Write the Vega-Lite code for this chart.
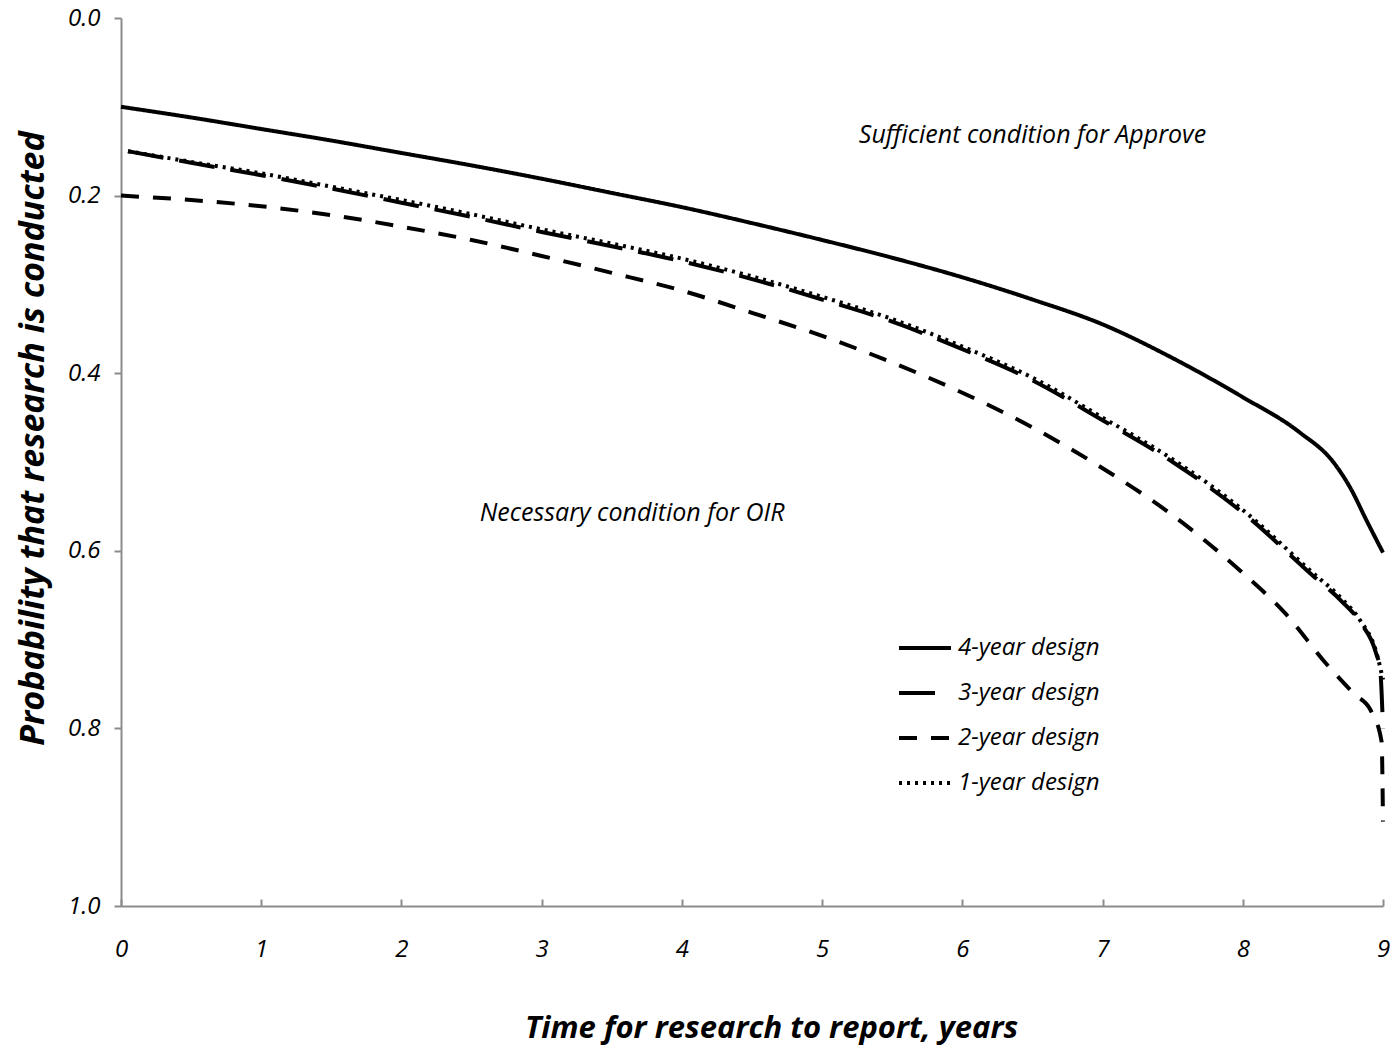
{
  "$schema": "https://vega.github.io/schema/vega-lite/v6.json",
  "width": 1262,
  "height": 888,
  "autosize": {"type": "none"},
  "padding": {"left": 121, "top": 18, "right": 7, "bottom": 139},
  "background": "white",
  "config": {
    "view": {"stroke": null},
    "font": "Open Sans"
  },
  "datasets": {
    "curves": [
      {"series": "4-year design", "x": 0, "y": 0.100},
      {"series": "4-year design", "x": 0.5, "y": 0.112},
      {"series": "4-year design", "x": 1, "y": 0.125},
      {"series": "4-year design", "x": 1.5, "y": 0.138},
      {"series": "4-year design", "x": 2, "y": 0.152},
      {"series": "4-year design", "x": 2.5, "y": 0.166},
      {"series": "4-year design", "x": 3, "y": 0.181},
      {"series": "4-year design", "x": 3.5, "y": 0.197},
      {"series": "4-year design", "x": 4, "y": 0.213},
      {"series": "4-year design", "x": 4.5, "y": 0.231},
      {"series": "4-year design", "x": 5, "y": 0.250},
      {"series": "4-year design", "x": 5.5, "y": 0.270},
      {"series": "4-year design", "x": 6, "y": 0.292},
      {"series": "4-year design", "x": 6.5, "y": 0.317},
      {"series": "4-year design", "x": 7, "y": 0.345},
      {"series": "4-year design", "x": 7.5, "y": 0.383},
      {"series": "4-year design", "x": 8, "y": 0.427},
      {"series": "4-year design", "x": 8.4, "y": 0.466},
      {"series": "4-year design", "x": 8.65, "y": 0.501},
      {"series": "4-year design", "x": 8.77, "y": 0.530},
      {"series": "4-year design", "x": 8.88, "y": 0.565},
      {"series": "4-year design", "x": 9, "y": 0.602},
      {"series": "3-year design", "x": 0.05, "y": 0.150},
      {"series": "3-year design", "x": 0.5, "y": 0.163},
      {"series": "3-year design", "x": 1, "y": 0.177},
      {"series": "3-year design", "x": 1.5, "y": 0.192},
      {"series": "3-year design", "x": 2, "y": 0.208},
      {"series": "3-year design", "x": 2.5, "y": 0.224},
      {"series": "3-year design", "x": 3, "y": 0.241},
      {"series": "3-year design", "x": 3.5, "y": 0.257},
      {"series": "3-year design", "x": 4, "y": 0.274},
      {"series": "3-year design", "x": 4.5, "y": 0.294},
      {"series": "3-year design", "x": 5, "y": 0.317},
      {"series": "3-year design", "x": 5.5, "y": 0.342},
      {"series": "3-year design", "x": 6, "y": 0.373},
      {"series": "3-year design", "x": 6.5, "y": 0.408},
      {"series": "3-year design", "x": 7, "y": 0.453},
      {"series": "3-year design", "x": 7.5, "y": 0.500},
      {"series": "3-year design", "x": 8, "y": 0.557},
      {"series": "3-year design", "x": 8.5, "y": 0.628},
      {"series": "3-year design", "x": 8.7, "y": 0.656},
      {"series": "3-year design", "x": 8.84, "y": 0.681},
      {"series": "3-year design", "x": 8.95, "y": 0.715},
      {"series": "3-year design", "x": 8.98, "y": 0.734},
      {"series": "3-year design", "x": 9, "y": 0.800},
      {"series": "2-year design", "x": 0, "y": 0.200},
      {"series": "2-year design", "x": 0.5, "y": 0.205},
      {"series": "2-year design", "x": 1, "y": 0.212},
      {"series": "2-year design", "x": 1.5, "y": 0.222},
      {"series": "2-year design", "x": 2, "y": 0.235},
      {"series": "2-year design", "x": 2.5, "y": 0.250},
      {"series": "2-year design", "x": 3, "y": 0.268},
      {"series": "2-year design", "x": 3.5, "y": 0.287},
      {"series": "2-year design", "x": 4, "y": 0.307},
      {"series": "2-year design", "x": 4.5, "y": 0.332},
      {"series": "2-year design", "x": 5, "y": 0.358},
      {"series": "2-year design", "x": 5.5, "y": 0.388},
      {"series": "2-year design", "x": 6, "y": 0.422},
      {"series": "2-year design", "x": 6.5, "y": 0.461},
      {"series": "2-year design", "x": 7, "y": 0.507},
      {"series": "2-year design", "x": 7.5, "y": 0.560},
      {"series": "2-year design", "x": 8, "y": 0.625},
      {"series": "2-year design", "x": 8.3, "y": 0.670},
      {"series": "2-year design", "x": 8.6, "y": 0.728},
      {"series": "2-year design", "x": 8.8, "y": 0.762},
      {"series": "2-year design", "x": 8.91, "y": 0.779},
      {"series": "2-year design", "x": 8.99, "y": 0.815},
      {"series": "2-year design", "x": 9, "y": 0.905},
      {"series": "1-year design", "x": 0.05, "y": 0.150},
      {"series": "1-year design", "x": 0.5, "y": 0.162},
      {"series": "1-year design", "x": 1, "y": 0.175},
      {"series": "1-year design", "x": 1.5, "y": 0.190},
      {"series": "1-year design", "x": 2, "y": 0.205},
      {"series": "1-year design", "x": 2.5, "y": 0.221},
      {"series": "1-year design", "x": 3, "y": 0.238},
      {"series": "1-year design", "x": 3.5, "y": 0.254},
      {"series": "1-year design", "x": 4, "y": 0.271},
      {"series": "1-year design", "x": 4.5, "y": 0.291},
      {"series": "1-year design", "x": 5, "y": 0.314},
      {"series": "1-year design", "x": 5.5, "y": 0.339},
      {"series": "1-year design", "x": 6, "y": 0.370},
      {"series": "1-year design", "x": 6.5, "y": 0.405},
      {"series": "1-year design", "x": 7, "y": 0.450},
      {"series": "1-year design", "x": 7.5, "y": 0.497},
      {"series": "1-year design", "x": 8, "y": 0.554},
      {"series": "1-year design", "x": 8.5, "y": 0.625},
      {"series": "1-year design", "x": 8.7, "y": 0.653},
      {"series": "1-year design", "x": 8.84, "y": 0.679},
      {"series": "1-year design", "x": 8.95, "y": 0.713},
      {"series": "1-year design", "x": 9, "y": 0.745}
    ],
    "notes": [
      {"label": "Sufficient condition for Approve", "x": 6.5, "y": 0.132},
      {"label": "Necessary condition for OIR", "x": 3.645, "y": 0.557}
    ]
  },
  "layer": [
    {
      "data": {"name": "curves"},
      "mark": {"type": "line", "strokeWidth": 4, "color": "black", "strokeCap": "butt", "interpolate": "monotone"},
      "encoding": {
        "x": {
          "field": "x", "type": "quantitative",
          "scale": {"domain": [0, 9], "nice": false, "zero": false},
          "axis": {
            "values": [0, 1, 2, 3, 4, 5, 6, 7, 8, 9],
            "format": "d",
            "grid": false,
            "domainColor": "#8c8c8c", "domainWidth": 2,
            "tickColor": "#8c8c8c", "tickWidth": 2, "tickSize": -7,
            "labelFont": "Open Sans", "labelFontStyle": "italic", "labelFontSize": 24, "labelColor": "black",
            "labelPadding": 38,
            "labelFlush": false,
            "title": "Time for research to report, years",
            "titleFont": "Open Sans", "titleFontStyle": "italic", "titleFontWeight": "bold", "titleFontSize": 31, "titleColor": "black",
            "titlePadding": 52,
            "titleX": 650
          }
        },
        "y": {
          "field": "y", "type": "quantitative",
          "scale": {"domain": [0, 1], "reverse": true, "nice": false},
          "axis": {
            "values": [0, 0.2, 0.4, 0.6, 0.8, 1.0],
            "format": ".1f",
            "grid": false,
            "domainColor": "#8c8c8c", "domainWidth": 2,
            "tickColor": "#8c8c8c", "tickWidth": 2, "tickSize": 7,
            "labelFont": "Open Sans", "labelFontStyle": "italic", "labelFontSize": 24, "labelColor": "black",
            "labelPadding": 14,
            "labelFlush": false,
            "title": "Probability that research is conducted",
            "titleFont": "Open Sans", "titleFontStyle": "italic", "titleFontWeight": "bold", "titleFontSize": 34, "titleColor": "black",
            "titlePadding": 17,
            "titleY": 420
          }
        },
        "strokeDash": {
          "field": "series", "type": "nominal",
          "scale": {
            "domain": ["4-year design", "3-year design", "2-year design", "1-year design"],
            "range": [[1, 0], [36, 16], [18, 14], [3, 5]]
          },
          "legend": {
            "title": null,
            "orient": "none",
            "legendX": 776,
            "legendY": 602,
            "padding": 0,
            "symbolType": "stroke",
            "symbolStrokeColor": "black",
            "symbolStrokeWidth": 4,
            "symbolSize": 2704,
            "labelFont": "Open Sans", "labelFontStyle": "italic", "labelFontSize": 24, "labelColor": "black",
            "labelOffset": 5,
            "rowPadding": 5
          }
        }
      }
    },
    {
      "data": {"name": "notes"},
      "mark": {"type": "text", "font": "Open Sans", "fontStyle": "italic", "fontSize": 25, "color": "black", "align": "center", "baseline": "middle"},
      "encoding": {
        "x": {"field": "x", "type": "quantitative"},
        "y": {"field": "y", "type": "quantitative"},
        "text": {"field": "label", "type": "nominal"}
      }
    }
  ]
}
